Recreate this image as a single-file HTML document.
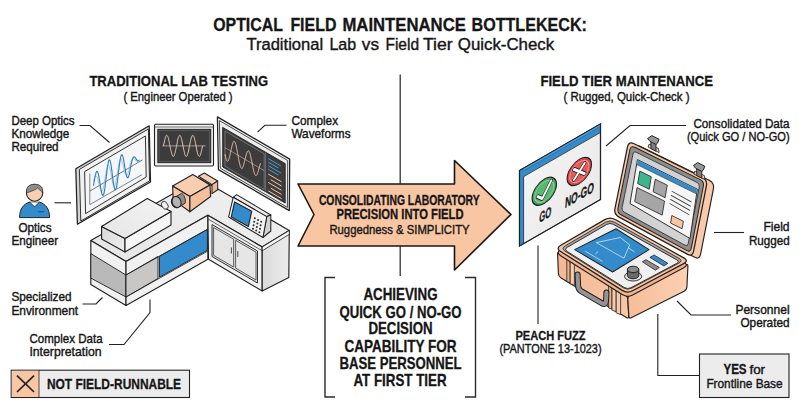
<!DOCTYPE html>
<html lang="en"><head><meta charset="utf-8"><title>Optical Field Maintenance Bottleneck</title>
<style>html,body{margin:0;padding:0;background:#fff}svg{display:block}</style></head>
<body>
<svg width="800" height="417" viewBox="0 0 800 417" font-family="'Liberation Sans', sans-serif" fill="#161616">
<rect width="800" height="417" fill="#fff"/>
<defs>
<linearGradient id="gR" x1="0" y1="0" x2="1" y2="0"><stop offset="0" stop-color="#dadada"/><stop offset="1" stop-color="#ececec"/></linearGradient>
<linearGradient id="gTop" x1="0" y1="1" x2="1" y2="0"><stop offset="0" stop-color="#e6e6e6"/><stop offset="1" stop-color="#f1f1f1"/></linearGradient>
<linearGradient id="gPL" x1="0" y1="0" x2="1" y2="1"><stop offset="0" stop-color="#f4b791"/><stop offset="1" stop-color="#f9c8a8"/></linearGradient>
<linearGradient id="gPR" x1="0" y1="0" x2="1" y2="0"><stop offset="0" stop-color="#f6bd98"/><stop offset="1" stop-color="#fbd0b4"/></linearGradient>
<linearGradient id="gPanel" x1="0" y1="0" x2="1" y2="1"><stop offset="0" stop-color="#f4f4f4"/><stop offset="1" stop-color="#e9e9e9"/></linearGradient>
<linearGradient id="gBL" x1="0" y1="0" x2="1" y2="1"><stop offset="0" stop-color="#dadada"/><stop offset="1" stop-color="#eeeeee"/></linearGradient>
<linearGradient id="gBT" x1="0" y1="1" x2="1" y2="0"><stop offset="0" stop-color="#e6e6e6"/><stop offset="1" stop-color="#f3f3f3"/></linearGradient>
</defs>
<text x="213.15" y="30.5" font-size="18.3" font-weight="700" stroke="#161616" stroke-width="0.3" textLength="69.85" lengthAdjust="spacingAndGlyphs" >OPTICAL</text>
<text x="290.4" y="30.5" font-size="18.3" font-weight="700" stroke="#161616" stroke-width="0.3" textLength="46.0" lengthAdjust="spacingAndGlyphs" >FIELD</text>
<text x="342.4" y="30.5" font-size="18.3" font-weight="700" stroke="#161616" stroke-width="0.3" textLength="123.5" lengthAdjust="spacingAndGlyphs" >MAINTENANCE</text>
<text x="471.5" y="30.5" font-size="18.3" font-weight="700" stroke="#161616" stroke-width="0.3" textLength="115.4" lengthAdjust="spacingAndGlyphs" >BOTTLEKECK:</text>
<text x="246.4" y="49.5" font-size="17.4" stroke="#161616" stroke-width="0.4" textLength="76.8" lengthAdjust="spacingAndGlyphs" >Traditional</text>
<text x="329.4" y="49.5" font-size="17.4" stroke="#161616" stroke-width="0.4" textLength="26.8" lengthAdjust="spacingAndGlyphs" >Lab</text>
<text x="361.79999999999995" y="49.5" font-size="17.4" stroke="#161616" stroke-width="0.4" textLength="17.2" lengthAdjust="spacingAndGlyphs" >vs</text>
<text x="385.4" y="49.5" font-size="17.4" stroke="#161616" stroke-width="0.4" textLength="33.7" lengthAdjust="spacingAndGlyphs" >Field</text>
<text x="422.9" y="49.5" font-size="17.4" stroke="#161616" stroke-width="0.4" textLength="29.7" lengthAdjust="spacingAndGlyphs" >Tier</text>
<text x="457.79999999999995" y="49.5" font-size="17.4" stroke="#161616" stroke-width="0.4" textLength="96.4" lengthAdjust="spacingAndGlyphs" >Quick-Check</text>
<text x="89.4" y="86" font-size="15.4" font-weight="700" stroke="#161616" stroke-width="0.3" textLength="178.7" lengthAdjust="spacingAndGlyphs" >TRADITIONAL LAB TESTING</text>
<text x="123.4" y="101" font-size="12.8" stroke="#161616" stroke-width="0.4" textLength="109.2" lengthAdjust="spacingAndGlyphs" >( Engineer Operated )</text>
<text x="540.4" y="85.8" font-size="15.4" font-weight="700" stroke="#161616" stroke-width="0.3" textLength="172.7" lengthAdjust="spacingAndGlyphs" >FIELD TIER MAINTENANCE</text>
<text x="563.4" y="100.8" font-size="12.8" stroke="#161616" stroke-width="0.4" textLength="126.2" lengthAdjust="spacingAndGlyphs" >( Rugged, Quick-Check )</text>
<text x="11.4" y="124.5" font-size="12.8" stroke="#161616" stroke-width="0.4" textLength="63.2" lengthAdjust="spacingAndGlyphs" >Deep Optics</text>
<text x="11.4" y="138" font-size="12.8" stroke="#161616" stroke-width="0.4" textLength="58.0" lengthAdjust="spacingAndGlyphs" >Knowledge</text>
<text x="11.4" y="150.5" font-size="12.8" stroke="#161616" stroke-width="0.4" textLength="47.2" lengthAdjust="spacingAndGlyphs" >Required</text>
<text x="18.4" y="232" font-size="12.8" stroke="#161616" stroke-width="0.4" textLength="33.2" lengthAdjust="spacingAndGlyphs" >Optics</text>
<text x="11.4" y="245" font-size="12.8" stroke="#161616" stroke-width="0.4" textLength="46.7" lengthAdjust="spacingAndGlyphs" >Engineer</text>
<text x="11.4" y="301" font-size="12.8" stroke="#161616" stroke-width="0.4" textLength="60.2" lengthAdjust="spacingAndGlyphs" >Specialized</text>
<text x="11.4" y="314.5" font-size="12.8" stroke="#161616" stroke-width="0.4" textLength="66.7" lengthAdjust="spacingAndGlyphs" >Environment</text>
<text x="29.4" y="343" font-size="12.8" stroke="#161616" stroke-width="0.4" textLength="73.2" lengthAdjust="spacingAndGlyphs" >Complex Data</text>
<text x="29.4" y="356" font-size="12.8" stroke="#161616" stroke-width="0.4" textLength="72.2" lengthAdjust="spacingAndGlyphs" >Interpretation</text>
<text x="291.4" y="125" font-size="12.8" stroke="#161616" stroke-width="0.4" textLength="46.7" lengthAdjust="spacingAndGlyphs" >Complex</text>
<text x="291.4" y="137.5" font-size="12.8" stroke="#161616" stroke-width="0.4" textLength="59.2" lengthAdjust="spacingAndGlyphs" >Waveforms</text>
<text x="693.4" y="127.5" font-size="12.8" stroke="#161616" stroke-width="0.4" textLength="96.2" lengthAdjust="spacingAndGlyphs" >Consolidated Data</text>
<text x="686.9" y="141" font-size="12.8" stroke="#161616" stroke-width="0.4" textLength="102.7" lengthAdjust="spacingAndGlyphs" >(Quick GO / NO-GO)</text>
<text x="763.4" y="231" font-size="12.8" stroke="#161616" stroke-width="0.4" textLength="26.2" lengthAdjust="spacingAndGlyphs" >Field</text>
<text x="748.9" y="244.5" font-size="12.8" stroke="#161616" stroke-width="0.4" textLength="40.7" lengthAdjust="spacingAndGlyphs" >Rugged</text>
<text x="735.4" y="313.8" font-size="12.8" stroke="#161616" stroke-width="0.4" textLength="54.2" lengthAdjust="spacingAndGlyphs" >Personnel</text>
<text x="740.4" y="326.5" font-size="12.8" stroke="#161616" stroke-width="0.4" textLength="49.2" lengthAdjust="spacingAndGlyphs" >Operated</text>
<text x="515.4" y="340" font-size="13.5" font-weight="700" stroke="#161616" stroke-width="0.3" textLength="70.2" lengthAdjust="spacingAndGlyphs" >PEACH FUZZ</text>
<text x="499.4" y="353" font-size="12.8" stroke="#161616" stroke-width="0.4" textLength="102.2" lengthAdjust="spacingAndGlyphs" >(PANTONE 13-1023)</text>
<polyline points="79.5,125.5 90.0,125.5 109.5,142.5" fill="none" stroke="#222" stroke-width="1.1" stroke-linejoin="miter" />
<polyline points="54.5,202.8 71.0,202.8" fill="none" stroke="#222" stroke-width="1.1" stroke-linejoin="miter" />
<polyline points="82.5,304.0 96.0,304.0 102.5,297.5" fill="none" stroke="#222" stroke-width="1.1" stroke-linejoin="miter" />
<polyline points="109.0,344.5 124.0,344.5 150.0,312.5 150.0,299.5" fill="none" stroke="#222" stroke-width="1.1" stroke-linejoin="miter" />
<polyline points="257.5,132.2 264.9,125.3 286.5,125.3" fill="none" stroke="#222" stroke-width="1.1" stroke-linejoin="miter" />
<polyline points="606.0,146.0 630.0,125.5 686.0,125.5" fill="none" stroke="#222" stroke-width="1.1" stroke-linejoin="miter" />
<polyline points="714.0,232.5 744.0,232.5" fill="none" stroke="#222" stroke-width="1.1" stroke-linejoin="miter" />
<polyline points="677.0,301.0 691.0,315.0 731.0,315.0" fill="none" stroke="#222" stroke-width="1.1" stroke-linejoin="miter" />
<polyline points="657.8,314.0 657.8,375.5 699.5,375.5" fill="none" stroke="#222" stroke-width="1.1" stroke-linejoin="miter" />
<polyline points="538.0,245.5 538.0,324.0" fill="none" stroke="#222" stroke-width="1.1" stroke-linejoin="miter" />
<polyline points="400.2,74.5 400.2,184.0" fill="none" stroke="#333" stroke-width="1.3" stroke-linejoin="miter" />
<polyline points="400.2,246.0 400.2,276.0" fill="none" stroke="#333" stroke-width="1.3" stroke-linejoin="miter" />
<polyline points="335.0,277.5 325.0,277.5 325.0,397.0 335.0,397.0" fill="none" stroke="#2a2a2a" stroke-width="1.4" stroke-linejoin="miter" />
<polyline points="465.0,277.5 475.5,277.5 475.5,397.0 465.0,397.0" fill="none" stroke="#2a2a2a" stroke-width="1.4" stroke-linejoin="miter" />
<polygon points="298.0,184.0 454.5,184.0 454.5,160.5 511.0,214.5 454.5,270.0 454.5,246.0 298.0,246.0 314.0,214.5" fill="#f9c6a3" stroke="#1c1512" stroke-width="1.61" stroke-linejoin="round" />
<text x="318.9" y="205.2" font-size="13.8" font-weight="700" stroke="#161616" stroke-width="0.3" textLength="160.7" lengthAdjust="spacingAndGlyphs" >CONSOLIDATING LABORATORY</text>
<text x="336.4" y="219.3" font-size="13.8" font-weight="700" stroke="#161616" stroke-width="0.3" textLength="127.2" lengthAdjust="spacingAndGlyphs" >PRECISION INTO FIELD</text>
<text x="329.4" y="234" font-size="13.6" stroke="#161616" stroke-width="0.4" textLength="140.2" lengthAdjust="spacingAndGlyphs" >Ruggedness &amp; SIMPLICITY</text>
<text x="363.4" y="300" font-size="16.3" font-weight="700" stroke="#161616" stroke-width="0.3" textLength="74.2" lengthAdjust="spacingAndGlyphs" >ACHIEVING</text>
<text x="339.4" y="317.5" font-size="16.3" font-weight="700" stroke="#161616" stroke-width="0.3" textLength="122.2" lengthAdjust="spacingAndGlyphs" >QUICK GO / NO-GO</text>
<text x="368.4" y="334.4" font-size="16.3" font-weight="700" stroke="#161616" stroke-width="0.3" textLength="64.2" lengthAdjust="spacingAndGlyphs" >DECISION</text>
<text x="344.4" y="351.7" font-size="16.3" font-weight="700" stroke="#161616" stroke-width="0.3" textLength="112.2" lengthAdjust="spacingAndGlyphs" >CAPABILITY FOR</text>
<text x="339.4" y="368.7" font-size="16.3" font-weight="700" stroke="#161616" stroke-width="0.3" textLength="122.2" lengthAdjust="spacingAndGlyphs" >BASE PERSONNEL</text>
<text x="353.4" y="386" font-size="16.3" font-weight="700" stroke="#161616" stroke-width="0.3" textLength="93.2" lengthAdjust="spacingAndGlyphs" >AT FIRST TIER</text>
<rect x="11.2" y="370.2" width="178.3" height="27.3" fill="#ececec" stroke="#222" stroke-width="1.1"/>
<rect x="11.8" y="370.8" width="27" height="26.2" fill="#f9c6a3"/>
<polyline points="39.0,370.2 39.0,397.5" fill="none" stroke="#222" stroke-width="0.8" stroke-linejoin="miter" />
<polyline points="17.0,375.6 34.0,392.0" fill="none" stroke="#222" stroke-width="1.7" stroke-linejoin="miter" />
<polyline points="34.0,375.6 17.0,392.0" fill="none" stroke="#222" stroke-width="1.7" stroke-linejoin="miter" />
<text x="46.9" y="389" font-size="15.4" font-weight="700" stroke="#161616" stroke-width="0.3" textLength="134.2" lengthAdjust="spacingAndGlyphs" >NOT FIELD-RUNNABLE</text>
<rect x="699.5" y="354" width="89.5" height="43.5" fill="#ececec" stroke="#222" stroke-width="1.1"/>
<text x="723.4" y="373.8" font-size="14" font-weight="700" stroke="#161616" stroke-width="0.3" textLength="23.2" lengthAdjust="spacingAndGlyphs" >YES</text>
<text x="749.4" y="373.8" font-size="12.8" stroke="#161616" stroke-width="0.4" textLength="15.7" lengthAdjust="spacingAndGlyphs" >for</text>
<text x="706.4" y="387.5" font-size="12.8" stroke="#161616" stroke-width="0.4" textLength="76.2" lengthAdjust="spacingAndGlyphs" >Frontline Base</text>
<path d="M19.6,217.6 C19.6,208 24,204 29.8,202 L34.6,206.8 L39.4,202 C45,204 49.6,208 49.6,217.6 Z" fill="#338bcc" stroke="#222" stroke-width="1"/>
<path d="M29.8,202 L34.6,206.8 L39.4,202 Z" fill="#fff" stroke="#222" stroke-width="0.6"/>
<rect x="38.2" y="211" width="6" height="1.5" fill="#1d5f93"/>
<ellipse cx="34.6" cy="192.7" rx="8.2" ry="8.5" fill="#f8cfb0" stroke="#222" stroke-width="1.1"/>
<path d="M26.6,193 C25.8,186 30,184.3 34.6,184.3 C39.5,184.3 43.4,186.5 42.6,193 C41.5,191 39,189.5 37.5,188 C35,190.5 30,191.5 26.6,193 Z" fill="#8e8e8e" stroke="#222" stroke-width="0.6"/>
<polygon points="75.8,168.8 149.2,125.8 150.5,182.0 77.4,224.2" fill="#d4d4d4" stroke="#222" stroke-width="1.26" stroke-linejoin="round" />
<polygon points="79.4,169.4 148.4,129.0 149.5,180.9 80.8,221.0" fill="#f1f1f1" stroke="#222" stroke-width="0.92" stroke-linejoin="round" />
<polygon points="84.6,171.6 145.4,136.0 146.2,177.0 85.6,213.6" fill="#f4f6f7" stroke="#222" stroke-width="0.92" stroke-linejoin="round" />
<polyline points="89.8,173.5 89.8,204.6 142.0,174.6" fill="none" stroke="#555" stroke-width="0.7" stroke-linejoin="miter" />
<polyline points="90.0,191.0 142.6,159.8" fill="none" stroke="#444" stroke-width="0.7" stroke-linejoin="miter" />
<polyline points="93.5,181.6 93.7,180.7 94.0,179.9 94.2,179.1 94.4,178.4 94.6,177.7 94.9,177.2 95.1,176.7 95.3,176.3 95.6,176.0 95.8,175.9 96.0,175.8 96.3,175.9 96.5,176.1 96.7,176.4 96.9,176.8 97.2,177.3 97.4,177.9 97.6,178.6 97.9,179.4 98.1,180.2 98.3,181.1 98.5,182.1 98.8,183.0 99.0,184.0 99.2,185.0 99.5,185.9 99.7,186.9 99.9,187.8 100.2,188.6 100.4,189.3 100.6,190.0 100.8,190.5 101.1,190.9 101.3,191.3 101.5,191.4 101.8,191.5 102.0,191.4 102.2,191.2 102.5,190.8 102.7,190.3 102.9,189.6 103.1,188.8 103.4,187.9 103.6,186.9 103.8,185.8 104.1,184.6 104.3,183.3 104.5,181.9 104.7,180.5 105.0,179.1 105.2,177.6 105.4,176.2 105.7,174.8 105.9,173.4 106.1,172.1 106.4,170.8 106.6,169.7 106.8,168.7 107.0,167.7 107.3,166.9 107.5,166.3 107.7,165.8 108.0,165.4 108.2,165.2 108.4,165.2 108.6,165.3 108.9,165.6 109.1,166.1 109.3,166.6 109.6,167.4 109.8,168.2 110.0,169.1 110.3,170.2 110.5,171.3 110.7,172.5 110.9,173.7 111.2,175.0 111.4,176.3 111.6,177.5 111.9,178.8 112.1,179.9 112.3,181.1 112.5,182.1 112.8,183.0 113.0,183.9 113.2,184.6 113.5,185.1 113.7,185.5 113.9,185.8 114.2,185.9 114.4,185.9 114.6,185.6 114.8,185.3 115.1,184.7 115.3,184.1 115.5,183.2 115.8,182.3 116.0,181.2 116.2,180.0 116.5,178.8 116.7,177.4 116.9,176.0 117.1,174.6 117.4,173.1 117.6,171.6 117.8,170.2 118.1,168.7 118.3,167.4 118.5,166.0 118.7,164.8 119.0,163.7 119.2,162.6 119.4,161.7 119.7,160.9 119.9,160.3 120.1,159.8 120.4,159.4 120.6,159.2 120.8,159.2 121.0,159.2 121.3,159.4 121.5,159.8 121.7,160.3 122.0,160.9 122.2,161.6 122.4,162.3 122.6,163.2 122.9,164.1 123.1,165.1 123.3,166.1 123.6,167.1 123.8,168.2 124.0,169.2 124.3,170.1 124.5,171.1 124.7,171.9 124.9,172.8 125.2,173.5 125.4,174.1 125.6,174.6 125.9,175.0 126.1,175.4 126.3,175.5 126.5,175.6 126.8,175.5 127.0,175.4 127.2,175.1 127.5,174.7 127.7,174.2 127.9,173.6 128.2,172.9 128.4,172.1 128.6,171.3 128.8,170.4 129.1,169.4 129.3,168.4 129.5,167.4 129.8,166.3 130.0,165.3 130.2,164.4 130.4,163.5 130.7,162.7 130.9,161.9 131.1,161.2 131.4,160.5 131.6,160.0 131.8,159.5 132.1,159.1 132.3,158.8 132.5,158.5 132.7,158.3 133.0,158.3 133.2,158.2 133.4,158.3 133.7,158.4 133.9,158.5 134.1,158.7 134.4,159.0 134.6,159.2 134.8,159.5 135.0,159.8 135.3,160.1 135.5,160.3 135.7,160.6 136.0,160.8 136.2,161.0 136.4,161.2 136.6,161.3 136.9,161.4 137.1,161.5 137.3,161.5 137.6,161.5 137.8,161.4 138.0,161.3 138.3,161.1 138.5,160.9 138.7,160.7 138.9,160.4 139.2,160.2 139.4,160.1" fill="none" stroke="#7db6dc" stroke-width="0.8" stroke-linejoin="miter" />
<polyline points="93.5,185.6 93.7,184.3 94.0,182.9 94.2,181.5 94.4,180.2 94.6,178.9 94.9,177.7 95.1,176.5 95.3,175.4 95.6,174.4 95.8,173.6 96.0,172.8 96.3,172.2 96.5,171.8 96.7,171.5 96.9,171.4 97.2,171.4 97.4,171.6 97.6,172.0 97.9,172.6 98.1,173.2 98.3,174.1 98.5,175.1 98.8,176.2 99.0,177.4 99.2,178.7 99.5,180.0 99.7,181.4 99.9,182.9 100.2,184.4 100.4,185.8 100.6,187.3 100.8,188.6 101.1,189.9 101.3,191.1 101.5,192.2 101.8,193.2 102.0,194.0 102.2,194.6 102.5,195.1 102.7,195.4 102.9,195.4 103.1,195.3 103.4,195.0 103.6,194.5 103.8,193.7 104.1,192.8 104.3,191.7 104.5,190.4 104.7,189.0 105.0,187.4 105.2,185.7 105.4,183.9 105.7,182.0 105.9,180.0 106.1,178.0 106.4,176.0 106.6,174.1 106.8,172.1 107.0,170.3 107.3,168.5 107.5,166.8 107.7,165.3 108.0,163.9 108.2,162.7 108.4,161.7 108.6,160.9 108.9,160.3 109.1,159.9 109.3,159.8 109.6,159.8 109.8,160.1 110.0,160.6 110.3,161.3 110.5,162.3 110.7,163.4 110.9,164.6 111.2,166.0 111.4,167.6 111.6,169.2 111.9,170.9 112.1,172.7 112.3,174.5 112.5,176.3 112.8,178.1 113.0,179.9 113.2,181.5 113.5,183.1 113.7,184.6 113.9,185.9 114.2,187.0 114.4,188.0 114.6,188.8 114.8,189.3 115.1,189.7 115.3,189.8 115.5,189.8 115.8,189.4 116.0,188.9 116.2,188.2 116.5,187.3 116.7,186.1 116.9,184.8 117.1,183.4 117.4,181.8 117.6,180.1 117.8,178.2 118.1,176.3 118.3,174.4 118.5,172.5 118.7,170.5 119.0,168.6 119.2,166.7 119.4,164.9 119.7,163.2 119.9,161.6 120.1,160.1 120.4,158.8 120.6,157.7 120.8,156.7 121.0,155.9 121.3,155.3 121.5,154.9 121.7,154.7 122.0,154.7 122.2,154.9 122.4,155.3 122.6,155.9 122.9,156.6 123.1,157.5 123.3,158.5 123.6,159.6 123.8,160.9 124.0,162.2 124.3,163.5 124.5,164.9 124.7,166.3 124.9,167.7 125.2,169.1 125.4,170.5 125.6,171.7 125.9,172.9 126.1,174.0 126.3,175.0 126.5,175.8 126.8,176.5 127.0,177.1 127.2,177.5 127.5,177.7 127.7,177.8 127.9,177.8 128.2,177.5 128.4,177.2 128.6,176.6 128.8,176.0 129.1,175.2 129.3,174.3 129.5,173.1 129.8,171.9 130.0,170.6 130.2,169.3 130.4,168.1 130.7,166.9 130.9,165.7 131.1,164.6 131.4,163.5 131.6,162.4 131.8,161.4 132.1,160.5 132.3,159.7 132.5,159.0 132.7,158.4 133.0,157.9 133.2,157.5 133.4,157.2 133.7,157.0 133.9,156.8 134.1,156.8 134.4,156.9 134.6,157.0 134.8,157.2 135.0,157.4 135.3,157.7 135.5,158.0 135.7,158.4 136.0,158.7 136.2,159.1 136.4,159.4 136.6,159.7 136.9,160.0 137.1,160.2 137.3,160.4 137.6,160.6 137.8,160.7 138.0,160.8 138.3,160.8 138.5,160.7 138.7,160.6 138.9,160.4 139.2,160.2 139.4,160.2" fill="none" stroke="#2f7fb8" stroke-width="1.1" stroke-linejoin="miter" />
<rect x="154.5" y="124.2" width="59" height="41.8" rx="1.2" fill="#f0f0f0" stroke="#222" stroke-width="1.1"/>
<line x1="155" y1="127" x2="213" y2="127" stroke="#222" stroke-width="0.6"/>
<rect x="157.8" y="129.3" width="53" height="33.4" fill="#3c3c3c" stroke="#222" stroke-width="0.9"/>
<rect x="159" y="130.5" width="50.6" height="31" fill="none" stroke="#666" stroke-width="0.6"/>
<polyline points="162.3,145.9 205.6,145.9" fill="none" stroke="#d9c0b0" stroke-width="0.7" stroke-linejoin="miter" />
<polyline points="163.5,145.9 163.7,144.9 163.9,143.9 164.1,142.9 164.3,142.0 164.5,141.1 164.7,140.2 164.9,139.4 165.1,138.6 165.3,137.9 165.4,137.3 165.6,136.8 165.8,136.3 166.0,135.9 166.2,135.6 166.4,135.4 166.6,135.3 166.8,135.3 167.0,135.4 167.2,135.6 167.4,135.8 167.6,136.2 167.8,136.6 168.0,137.1 168.2,137.7 168.4,138.4 168.6,139.1 168.8,139.9 169.0,140.8 169.2,141.7 169.3,142.6 169.5,143.6 169.7,144.6 169.9,145.6 170.1,146.6 170.3,147.6 170.5,148.5 170.7,149.5 170.9,150.4 171.1,151.3 171.3,152.1 171.5,152.9 171.7,153.6 171.9,154.3 172.1,154.8 172.3,155.3 172.5,155.8 172.7,156.1 172.9,156.3 173.1,156.5 173.2,156.5 173.4,156.5 173.6,156.3 173.8,156.1 174.0,155.8 174.2,155.3 174.4,154.8 174.6,154.3 174.8,153.6 175.0,152.9 175.2,152.1 175.4,151.3 175.6,150.4 175.8,149.5 176.0,148.5 176.2,147.6 176.4,146.6 176.6,145.6 176.8,144.6 177.0,143.6 177.2,142.6 177.3,141.7 177.5,140.8 177.7,139.9 177.9,139.1 178.1,138.4 178.3,137.7 178.5,137.1 178.7,136.6 178.9,136.2 179.1,135.8 179.3,135.6 179.5,135.4 179.7,135.3 179.9,135.3 180.1,135.4 180.3,135.6 180.5,135.9 180.7,136.3 180.9,136.8 181.1,137.3 181.2,137.9 181.4,138.6 181.6,139.4 181.8,140.2 182.0,141.1 182.2,142.0 182.4,142.9 182.6,143.9 182.8,144.9 183.0,145.9 183.2,146.9 183.4,147.9 183.6,148.9 183.8,149.8 184.0,150.7 184.2,151.6 184.4,152.4 184.6,153.2 184.8,153.9 184.9,154.5 185.1,155.0 185.3,155.5 185.5,155.9 185.7,156.2 185.9,156.4 186.1,156.5 186.3,156.5 186.5,156.4 186.7,156.2 186.9,156.0 187.1,155.6 187.3,155.2 187.5,154.7 187.7,154.1 187.9,153.4 188.1,152.7 188.3,151.9 188.5,151.0 188.7,150.1 188.8,149.2 189.0,148.2 189.2,147.2 189.4,146.2 189.6,145.2 189.8,144.2 190.0,143.3 190.2,142.3 190.4,141.4 190.6,140.5 190.8,139.7 191.0,138.9 191.2,138.2 191.4,137.5 191.6,137.0 191.8,136.5 192.0,136.0 192.2,135.7 192.4,135.5 192.6,135.3 192.8,135.3 192.9,135.3 193.1,135.5 193.3,135.7 193.5,136.0 193.7,136.5 193.9,137.0 194.1,137.5 194.3,138.2 194.5,138.9 194.7,139.7 194.9,140.5 195.1,141.4 195.3,142.3 195.5,143.3 195.7,144.2 195.9,145.2 196.1,146.2 196.3,147.2 196.5,148.2 196.7,149.2 196.8,150.1 197.0,151.0 197.2,151.9 197.4,152.7 197.6,153.4 197.8,154.1 198.0,154.7 198.2,155.2 198.4,155.6 198.6,156.0 198.8,156.2 199.0,156.4 199.2,156.5 199.4,156.5 199.6,156.4 199.8,156.2 200.0,155.9 200.2,155.5 200.4,155.0 200.6,154.5 200.7,153.9 200.9,153.2 201.1,152.4 201.3,151.6 201.5,150.7 201.7,149.8 201.9,148.9 202.1,147.9 202.3,146.9 202.5,145.9" fill="none" stroke="#efcdb6" stroke-width="1.0" stroke-linejoin="miter" />
<polygon points="217.4,116.9 289.7,159.1 289.3,210.6 218.4,169.6" fill="#f0f0f0" stroke="#222" stroke-width="1.26" stroke-linejoin="round" />
<polygon points="219.4,120.6 287.7,160.5 287.4,207.4 220.3,168.2" fill="#ececec" stroke="#222" stroke-width="0.8" stroke-linejoin="round" />
<polygon points="222.7,127.4 285.2,163.6 285.2,203.0 222.7,167.0" fill="#3c3c3c" stroke="#222" stroke-width="0.92" stroke-linejoin="round" />
<polyline points="265.6,152.6 265.6,191.4" fill="none" stroke="#888" stroke-width="0.6" stroke-linejoin="miter" />
<polygon points="225.0,131.0 264.2,153.8 264.2,189.5 225.0,166.2" fill="none" stroke="#8a8a8a" stroke-width="0.69" stroke-linejoin="round" />
<polyline points="224.6,147.4 264.2,170.6" fill="none" stroke="#d9b49a" stroke-width="0.6" stroke-linejoin="miter" />
<polyline points="225.0,154.2 225.2,155.1 225.4,156.0 225.5,156.8 225.7,157.5 225.9,158.2 226.1,158.9 226.2,159.4 226.4,159.9 226.6,160.4 226.8,160.7 227.0,161.0 227.1,161.2 227.3,161.3 227.5,161.3 227.7,161.3 227.8,161.2 228.0,161.0 228.2,160.8 228.4,160.5 228.6,160.1 228.7,159.6 228.9,159.1 229.1,158.6 229.3,157.9 229.4,157.3 229.6,156.6 229.8,155.8 230.0,155.1 230.2,154.3 230.3,153.5 230.5,152.6 230.7,151.8 230.9,150.9 231.1,150.1 231.2,149.3 231.4,148.5 231.6,147.7 231.8,146.9 231.9,146.2 232.1,145.5 232.3,144.8 232.5,144.2 232.7,143.6 232.8,143.1 233.0,142.7 233.2,142.3 233.4,141.9 233.5,141.7 233.7,141.5 233.9,141.4 234.1,141.3 234.3,141.4 234.4,141.4 234.6,141.6 234.8,141.9 235.0,142.2 235.1,142.6 235.3,143.0 235.5,143.5 235.7,144.1 235.9,144.7 236.0,145.4 236.2,146.2 236.4,147.0 236.6,147.8 236.7,148.7 236.9,149.6 237.1,150.5 237.3,151.5 237.5,152.5 237.6,153.5 237.8,154.5 238.0,155.5 238.2,156.5 238.4,157.4 238.5,158.4 238.7,159.4 238.9,160.3 239.1,161.2 239.2,162.1 239.4,162.9 239.6,163.7 239.8,164.4 240.0,165.1 240.1,165.7 240.3,166.3 240.5,166.8 240.7,167.2 240.8,167.6 241.0,167.9 241.2,168.1 241.4,168.3 241.6,168.4 241.7,168.5 241.9,168.4 242.1,168.3 242.3,168.2 242.4,167.9 242.6,167.6 242.8,167.3 243.0,166.9 243.2,166.4 243.3,165.9 243.5,165.3 243.7,164.8 243.9,164.1 244.0,163.5 244.2,162.8 244.4,162.1 244.6,161.3 244.8,160.6 244.9,159.8 245.1,159.1 245.3,158.4 245.5,157.6 245.6,156.9 245.8,156.2 246.0,155.5 246.2,154.9 246.4,154.3 246.5,153.7 246.7,153.2 246.9,152.7 247.1,152.2 247.2,151.9 247.4,151.5 247.6,151.3 247.8,151.1 248.0,150.9 248.1,150.8 248.3,150.8 248.5,150.9 248.7,151.0 248.9,151.2 249.0,151.4 249.2,151.7 249.4,152.1 249.6,152.5 249.7,153.0 249.9,153.5 250.1,154.1 250.3,154.8 250.5,155.5 250.6,156.2 250.8,157.0 251.0,157.8 251.2,158.6 251.3,159.5 251.5,160.3 251.7,161.2 251.9,162.1 252.1,163.0 252.2,163.9 252.4,164.8 252.6,165.7 252.8,166.6 252.9,167.5 253.1,168.3 253.3,169.1 253.5,169.9 253.7,170.6 253.8,171.3 254.0,172.0 254.2,172.6 254.4,173.2 254.5,173.7 254.7,174.1 254.9,174.5 255.1,174.8 255.3,175.1 255.4,175.3 255.6,175.5 255.8,175.5 256.0,175.6 256.2,175.5 256.3,175.4 256.5,175.3 256.7,175.1 256.9,174.8 257.0,174.5 257.2,174.1 257.4,173.7 257.6,173.3 257.8,172.8 257.9,172.3 258.1,171.7 258.3,171.1 258.5,170.5 258.6,169.9 258.8,169.2 259.0,168.6 259.2,167.9 259.4,167.3 259.5,166.6 259.7,166.0 259.9,165.4 260.1,164.8 260.2,164.2 260.4,163.6 260.6,163.1" fill="none" stroke="#f1c3a3" stroke-width="1.0" stroke-linejoin="miter" />
<polyline points="268.2,158.6 281.0,166.1" fill="none" stroke="#4a9bd6" stroke-width="1.0" stroke-linejoin="miter" />
<polyline points="268.2,162.1 278.5,168.1" fill="none" stroke="#4a9bd6" stroke-width="1.0" stroke-linejoin="miter" />
<polyline points="268.2,165.6 281.0,173.1" fill="none" stroke="#4a9bd6" stroke-width="1.0" stroke-linejoin="miter" />
<polyline points="268.2,169.1 278.5,175.1" fill="none" stroke="#4a9bd6" stroke-width="1.0" stroke-linejoin="miter" />
<polyline points="268.2,174.0 281.5,181.8" fill="none" stroke="#f1c3a3" stroke-width="1.0" stroke-linejoin="miter" />
<polyline points="270.7,179.7 281.5,186.0" fill="none" stroke="#f1c3a3" stroke-width="1.0" stroke-linejoin="miter" />
<polyline points="268.2,182.4 281.5,190.2" fill="none" stroke="#f1c3a3" stroke-width="1.0" stroke-linejoin="miter" />
<polyline points="270.7,188.1 281.5,194.4" fill="none" stroke="#f1c3a3" stroke-width="1.0" stroke-linejoin="miter" />
<polyline points="268.2,190.8 281.5,198.6" fill="none" stroke="#f1c3a3" stroke-width="1.0" stroke-linejoin="miter" />
<polygon points="90.8,240.6 126.0,261.5 207.9,215.3 262.2,247.0 289.3,230.5 199.7,178.5" fill="url(#gTop)" stroke="#222" stroke-width="1.15" stroke-linejoin="round" />
<polygon points="90.8,240.6 126.0,261.5 126.0,305.5 90.8,284.6" fill="#f1f1f1" stroke="#222" stroke-width="1.15" stroke-linejoin="round" />
<polygon points="90.8,253.6 126.0,275.0 126.0,297.0 90.8,278.1" fill="#b9b9b9" stroke="#222" stroke-width="0.92" stroke-linejoin="round" />
<polygon points="126.0,261.5 207.9,215.3 207.9,259.3 126.0,305.5" fill="#f1f1f1" stroke="#222" stroke-width="1.15" stroke-linejoin="round" />
<polygon points="126.0,275.0 158.0,256.4 158.0,278.4 126.0,297.0" fill="#c9c7c6" stroke="#222" stroke-width="0.92" stroke-linejoin="round" />
<polygon points="159.5,256.2 207.4,229.4 207.4,250.2 159.5,277.2" fill="#338bcc" stroke="#222" stroke-width="0.92" stroke-linejoin="round" />
<polyline points="126.0,275.0 207.9,229.0" fill="none" stroke="#222" stroke-width="0.8" stroke-linejoin="miter" />
<polyline points="126.0,297.0 207.9,251.0" fill="none" stroke="#222" stroke-width="0.8" stroke-linejoin="miter" />
<polygon points="101.6,226.4 125.0,238.4 125.0,251.9 101.6,238.9" fill="url(#gBL)" stroke="#222" stroke-width="1.15" stroke-linejoin="round" />
<polygon points="125.0,238.4 171.0,211.4 171.0,224.9 125.0,251.9" fill="#f6f6f6" stroke="#222" stroke-width="1.15" stroke-linejoin="round" />
<polygon points="101.6,226.4 147.3,198.4 171.0,211.4 125.0,238.4" fill="url(#gBT)" stroke="#222" stroke-width="1.15" stroke-linejoin="round" />
<ellipse cx="164.8" cy="205.3" rx="3" ry="4.2" transform="rotate(-35 164.8 205.3)" fill="#eee" stroke="#222" stroke-width="0.8"/>
<polygon points="198.5,176.3 204.3,173.0 217.7,181.0 212.0,184.6" fill="#f6cfb5" stroke="#222" stroke-width="1.03" stroke-linejoin="round" />
<polygon points="212.0,184.6 217.7,181.0 217.7,189.8 212.0,193.6" fill="#edb896" stroke="#222" stroke-width="1.03" stroke-linejoin="round" />
<path d="M175.5,196.8 L183,192.5 L186,203 L177.6,207.6 Z" fill="#9a9a9a" stroke="#222" stroke-width="0.9"/>
<ellipse cx="175.8" cy="202.3" rx="4.2" ry="5.6" transform="rotate(-20 175.8 202.3)" fill="#a9a9a9" stroke="#222" stroke-width="1"/>
<polygon points="172.6,185.9 192.8,174.4 210.0,185.0 189.9,196.5" fill="#f9cdb0" stroke="#222" stroke-width="1.15" stroke-linejoin="round" />
<polygon points="172.6,185.9 189.9,196.5 189.9,211.8 173.2,199.6" fill="#f9c6a3" stroke="#222" stroke-width="1.15" stroke-linejoin="round" />
<polygon points="189.9,196.5 210.0,185.0 210.6,196.5 189.9,211.8" fill="#f6bf9b" stroke="#222" stroke-width="1.15" stroke-linejoin="round" />
<path d="M176.2,196.4 L181.5,193.4 C184,194 186,199 185.2,203.2 L178,207.4 Z" fill="#8d8d8d" stroke="#222" stroke-width="0.9"/>
<ellipse cx="176.6" cy="202" rx="4.3" ry="5.7" transform="rotate(-18 176.6 202)" fill="#b3b3b3" stroke="#222" stroke-width="1"/>
<polygon points="207.9,215.3 262.2,247.0 262.2,291.0 208.5,259.3" fill="#f1f1f1" stroke="#222" stroke-width="1.15" stroke-linejoin="round" />
<polygon points="262.2,247.0 289.3,230.5 288.8,277.5 262.2,291.0" fill="url(#gR)" stroke="#222" stroke-width="1.15" stroke-linejoin="round" />
<polygon points="262.2,247.0 289.3,230.5 289.3,234.3 262.2,250.8" fill="#f6f6f6" stroke="#222" stroke-width="0.8" stroke-linejoin="round" />
<polyline points="207.9,218.9 262.2,250.8" fill="none" stroke="#222" stroke-width="0.7" stroke-linejoin="miter" />
<polygon points="212.0,224.5 257.5,251.0 257.5,283.0 212.0,256.5" fill="#dedede" stroke="#222" stroke-width="0.92" stroke-linejoin="round" />
<polygon points="213.6,227.5 233.6,239.2 233.6,267.0 213.6,255.3" fill="#e6e6e6" stroke="#222" stroke-width="0.69" stroke-linejoin="round" />
<polygon points="235.6,240.3 256.0,252.2 256.0,280.0 235.6,268.1" fill="#e6e6e6" stroke="#222" stroke-width="0.69" stroke-linejoin="round" />
<polyline points="231.4,247.5 231.4,253.5" fill="none" stroke="#222" stroke-width="0.8" stroke-linejoin="miter" />
<polyline points="237.8,251.0 237.8,257.0" fill="none" stroke="#222" stroke-width="0.8" stroke-linejoin="miter" />
<polygon points="233.2,197.3 236.6,194.6 270.8,215.0 266.8,216.6" fill="#ededed" stroke="#222" stroke-width="1.03" stroke-linejoin="round" />
<polygon points="266.8,216.6 270.8,215.0 270.8,231.0 262.9,237.5" fill="#d2d2d2" stroke="#222" stroke-width="1.03" stroke-linejoin="round" />
<polygon points="233.2,197.3 266.8,216.6 262.9,237.5 228.6,217.0" fill="#f2f2f2" stroke="#222" stroke-width="1.03" stroke-linejoin="round" />
<polygon points="234.6,201.9 251.7,211.2 248.4,226.4 231.3,217.0" fill="#338bcc" stroke="#222" stroke-width="1.15" stroke-linejoin="round" />
<circle cx="254.8" cy="218.2" r="1.0" fill="#2a2a2a"/>
<circle cx="258.0" cy="219.9" r="1.0" fill="#2a2a2a"/>
<circle cx="261.2" cy="221.7" r="1.0" fill="#2a2a2a"/>
<circle cx="254.2" cy="221.7" r="1.0" fill="#2a2a2a"/>
<circle cx="257.4" cy="223.4" r="1.0" fill="#2a2a2a"/>
<circle cx="260.6" cy="225.2" r="1.0" fill="#2a2a2a"/>
<circle cx="253.6" cy="225.2" r="1.0" fill="#2a2a2a"/>
<circle cx="256.8" cy="226.9" r="1.0" fill="#2a2a2a"/>
<circle cx="260.0" cy="228.7" r="1.0" fill="#2a2a2a"/>
<circle cx="253.0" cy="228.7" r="1.0" fill="#2a2a2a"/>
<circle cx="256.2" cy="230.4" r="1.0" fill="#2a2a2a"/>
<circle cx="259.4" cy="232.2" r="1.0" fill="#2a2a2a"/>
<g transform="matrix(1,-0.575,0,1,519.5,170.4)">
<rect x="0" y="0" width="81" height="75.6" fill="url(#gPanel)" stroke="#222" stroke-width="1.1"/>
<rect x="0.5" y="0.5" width="80" height="8" fill="#338bcc"/>
<rect x="0.5" y="0.5" width="80" height="2.2" fill="#4f9fdb"/>
<line x1="0.5" y1="2.8" x2="80.5" y2="2.8" stroke="#1f5f92" stroke-width="0.5"/>
<rect x="0.5" y="0.5" width="3.6" height="74.6" fill="#338bcc"/>
<rect x="0" y="0" width="81" height="75.6" fill="none" stroke="#222" stroke-width="1.2"/>
<line x1="4.1" y1="8.6" x2="80.5" y2="8.6" stroke="#222" stroke-width="0.7"/>
<line x1="4.1" y1="8.6" x2="4.1" y2="75" stroke="#222" stroke-width="0.7"/>
<circle cx="24.8" cy="35.2" r="12.2" fill="#45a862" stroke="#222" stroke-width="1.1"/>
<circle cx="24.8" cy="35.2" r="9.6" fill="#55b970" stroke="#8fd6a0" stroke-width="0.9"/>
<polyline points="18.2,36.6 22.8,41.4 31.6,28.6" fill="none" stroke="#222" stroke-width="3.8" stroke-linecap="round" stroke-linejoin="round"/>
<polyline points="18.2,36.6 22.8,41.4 31.6,28.6" fill="none" stroke="#fff" stroke-width="2.4" stroke-linecap="round" stroke-linejoin="round"/>
<circle cx="59.8" cy="35.5" r="12.2" fill="#d94a4c" stroke="#222" stroke-width="1.1"/>
<circle cx="59.8" cy="35.5" r="9.6" fill="#e35a5b" stroke="#f19a98" stroke-width="0.9"/>
<path d="M54.6,30.3 L65,40.7 M65,30.3 L54.6,40.7" fill="none" stroke="#222" stroke-width="3.8" stroke-linecap="round"/>
<path d="M54.6,30.3 L65,40.7 M65,30.3 L54.6,40.7" fill="none" stroke="#fff" stroke-width="2.4" stroke-linecap="round"/>
<text transform="translate(25.4,63.8) skewX(-4)" x="0" y="0" font-size="14.2" font-weight="700" text-anchor="middle" textLength="12" lengthAdjust="spacingAndGlyphs" stroke="#161616" stroke-width="0.3">GO</text>
<text transform="translate(59.6,63.8) skewX(-4)" x="0" y="0" font-size="14.2" font-weight="700" text-anchor="middle" textLength="28.8" lengthAdjust="spacingAndGlyphs" stroke="#161616" stroke-width="0.3">NO-GO</text>
</g>
<path d="M634.5,149.9 Q635.7,144.0 641.1,146.7 L709.1,180.3 Q714.5,183.0 713.4,188.9 L700.6,254.1 Q699.5,260.0 694.2,257.1 L626.1,220.1 Q620.8,217.2 622.0,211.3 Z" fill="#f8c9ab" stroke="#222" stroke-width="1.15" />
<path d="M627.5,146.9 Q628.7,141.0 634.1,143.7 L702.1,177.3 Q707.5,180.0 706.4,185.9 L693.6,251.1 Q692.5,257.0 687.2,254.1 L619.1,217.1 Q613.8,214.2 615.0,208.3 Z" fill="#f9c6a3" stroke="#222" stroke-width="1.26" />
<path d="M629.9,149.7 Q630.8,145.3 634.8,147.3 L700.2,179.6 Q704.2,181.6 703.4,186.0 L691.3,248.1 Q690.4,252.6 686.5,250.4 L621.0,214.8 Q617.1,212.7 618.0,208.3 Z" fill="#8d8d8d" stroke="#222" stroke-width="1.03" />
<path d="M633.0,154.0 Q633.6,151.0 636.3,152.3 L697.1,182.5 Q699.8,183.8 699.3,186.7 L688.2,243.6 Q687.6,246.6 685.0,245.2 L624.1,212.1 Q621.5,210.6 622.1,207.7 Z" fill="#d2d2d2" stroke="#222" stroke-width="0.8" />
<polygon points="637.4,159.6 697.3,189.2 690.0,238.5 630.0,203.5" fill="#f6f6f6" stroke="#222" stroke-width="0.92" stroke-linejoin="round" />
<g transform="matrix(1,0.493,-0.168,1,637.4,159.6)">
<polygon points="0.5,0.4 59.6,0.4 59.4,4.6 0.4,4.6" fill="#338bcc"/>
<line x1="0" y1="4.8" x2="59.4" y2="4.8" stroke="#222" stroke-width="0.5"/>
<rect x="4" y="9.5" width="11.5" height="12.5" fill="#3fb58e" stroke="#222" stroke-width="0.7"/>
<rect x="19.5" y="10" width="12" height="12.5" fill="#a6a6a6" stroke="#222" stroke-width="0.7"/>
<rect x="4" y="26" width="27.5" height="14" fill="#a6a6a6" stroke="#222" stroke-width="0.7"/>
<line x1="36.5" y1="13.5" x2="56.5" y2="14.5" stroke="#444" stroke-width="0.9"/>
<line x1="36.5" y1="17.6" x2="56.5" y2="18.8" stroke="#444" stroke-width="0.9"/>
<line x1="36.5" y1="21.7" x2="56.5" y2="23.1" stroke="#444" stroke-width="0.9"/>
<line x1="36.5" y1="25.799999999999997" x2="56.5" y2="27.4" stroke="#444" stroke-width="0.9"/>
<rect x="40.5" y="36" width="11.5" height="7.5" fill="#f9c6a3" stroke="#222" stroke-width="0.7"/>
</g>
<path d="M648.1,147.1 L649.1,144.1 L658.6,148.6 L659.1,152.6 Z" fill="#f9c6a3" stroke="#222" stroke-width="0.8" stroke-linejoin="round"/>
<path d="M650.8000000000001,141.1 L651.0,148.6 L656.0,151.2 L656.0,143.6 Z" fill="#7e7e7e" stroke="#222" stroke-width="0.9" stroke-linejoin="round"/>
<path d="M647.6,138.6 L651.8000000000001,135.6 L659.0,139.2 L657.6,143.0 L656.0,144.4 L650.0,141.4 Z" fill="#969696" stroke="#222" stroke-width="1" stroke-linejoin="round"/>
<path d="M693.9,174.1 L694.9,171.1 L704.4,175.6 L704.9,179.6 Z" fill="#f9c6a3" stroke="#222" stroke-width="0.8" stroke-linejoin="round"/>
<path d="M696.6,168.1 L696.8,175.6 L701.8,178.2 L701.8,170.6 Z" fill="#7e7e7e" stroke="#222" stroke-width="0.9" stroke-linejoin="round"/>
<path d="M693.4,165.6 L697.6,162.6 L704.8,166.2 L703.4,170.0 L701.8,171.4 L695.8,168.4 Z" fill="#969696" stroke="#222" stroke-width="1" stroke-linejoin="round"/>
<path d="M557.6,254.0 Q557.5,251.0 560.0,252.6 L625.1,294.4 Q627.6,296.0 627.8,299.0 L628.8,316.0 Q629.0,319.0 626.4,317.5 L561.1,278.0 Q558.5,276.5 558.4,273.5 Z" fill="url(#gPL)" stroke="#222" stroke-width="1.15" />
<path d="M627.8,299.0 Q627.6,296.0 630.2,294.6 L685.4,264.9 Q688.0,263.5 687.9,266.5 L686.9,286.8 Q686.8,289.8 684.1,291.2 L631.7,317.6 Q629.0,319.0 628.8,316.0 Z" fill="url(#gPR)" stroke="#222" stroke-width="1.15" />
<polygon points="566.8,259.4 570.2,261.5 570.2,282.7 566.8,281.6" fill="#eeb08a" stroke="#222" stroke-width="0.8" stroke-linejoin="round" />
<polygon points="570.2,261.5 574.4,264.2 574.4,285.4 570.2,283.7" fill="#f9cbad" stroke="#222" stroke-width="0.8" stroke-linejoin="round" />
<polygon points="608.6,285.8 612.0,287.9 612.0,309.1 608.6,308.0" fill="#eeb08a" stroke="#222" stroke-width="0.8" stroke-linejoin="round" />
<polygon points="612.0,287.9 616.2,290.6 616.2,311.8 612.0,310.1" fill="#f9cbad" stroke="#222" stroke-width="0.8" stroke-linejoin="round" />
<polygon points="616.2,290.6 620.6,293.4 620.6,314.6 616.2,312.8" fill="#f9cbad" stroke="#222" stroke-width="0.8" stroke-linejoin="round" />
<path d="M577.6,274.5 L578.2,286.5 Q578.6,289.6 581.2,291.2 L602.2,303.4 Q605.8,305 606,301.2 L606.4,292.5" fill="none" stroke="#222" stroke-width="6" stroke-linecap="round" stroke-linejoin="round"/>
<path d="M577.6,274.5 L578.2,286.5 Q578.6,289.6 581.2,291.2 L602.2,303.4 Q605.8,305 606,301.2 L606.4,292.5" fill="none" stroke="#949494" stroke-width="4" stroke-linecap="round" stroke-linejoin="round"/>
<path d="M560.7,255.7 Q555.6,252.5 560.8,249.5 L604.8,223.8 Q610.0,220.8 615.2,223.7 L683.8,262.1 Q689.0,265.0 683.7,267.8 L632.6,295.0 Q627.3,297.8 622.2,294.6 Z" fill="#f3b48e" stroke="#222" stroke-width="1.15" />
<path d="M560.7,251.5 Q555.6,248.3 560.8,245.3 L604.8,219.6 Q610.0,216.6 615.2,219.5 L683.8,257.9 Q689.0,260.8 683.7,263.6 L632.6,290.8 Q627.3,293.6 622.2,290.4 Z" fill="#f9c6a3" stroke="#222" stroke-width="1.26" />
<path d="M565.0,251.1 Q560.8,248.4 565.1,245.9 L605.7,222.2 Q610.0,219.7 614.4,222.2 L679.0,258.3 Q683.4,260.7 678.9,263.1 L631.8,288.1 Q627.4,290.5 623.2,287.8 Z" fill="#a3a3a3" stroke="#222" stroke-width="0.8" />
<path d="M567.3,251.5 Q563.9,249.3 567.3,247.3 L606.6,224.5 Q610.0,222.5 613.5,224.4 L676.5,259.7 Q680.0,261.6 676.5,263.5 L631.0,287.7 Q627.5,289.5 624.1,287.4 Z" fill="#f0f0f0" stroke="#222" stroke-width="0.92" />
<polygon points="574.7,249.6 616.0,228.8 649.1,249.6 612.6,272.0" fill="#338bcc" stroke="#222" stroke-width="1.03" stroke-linejoin="round" />
<polyline points="585.3,251.2 602.4,261.3" fill="none" stroke="#cfe6f7" stroke-width="0.8" stroke-linejoin="miter" />
<polyline points="595.4,254.0 598.0,251.6" fill="none" stroke="#cfe6f7" stroke-width="0.8" stroke-linejoin="miter" />
<polyline points="596.2,242.6 620.3,237.5 629.7,244.9 623.9,258.2 596.2,242.6" fill="none" stroke="#cfe6f7" stroke-width="0.8" stroke-linejoin="miter" />
<polyline points="628.4,247.8 634.3,251.8" fill="none" stroke="#cfe6f7" stroke-width="0.8" stroke-linejoin="miter" />
<polygon points="642.4,261.8 646.0,259.7 659.3,267.5 655.4,270.2" fill="#8d8d8d" stroke="#222" stroke-width="0.8" stroke-linejoin="round" />
<polygon points="649.9,257.4 654.1,255.0 667.8,263.3 664.0,266.0" fill="#338bcc" stroke="#222" stroke-width="0.8" stroke-linejoin="round" />
<ellipse cx="633.1" cy="276.4" rx="8.6" ry="4.6" fill="#e2e2e2" stroke="#222" stroke-width="0.9"/>
<path d="M627.4,269.4 L627.4,275.6 A5.7,3.2 0 0 0 638.8,275.6 L638.8,269.4 Z" fill="#6a6a6a" stroke="#222" stroke-width="1"/>
<ellipse cx="633.1" cy="269.4" rx="5.7" ry="3.2" fill="#8c8c8c" stroke="#222" stroke-width="1"/>
</svg>
</body></html>
